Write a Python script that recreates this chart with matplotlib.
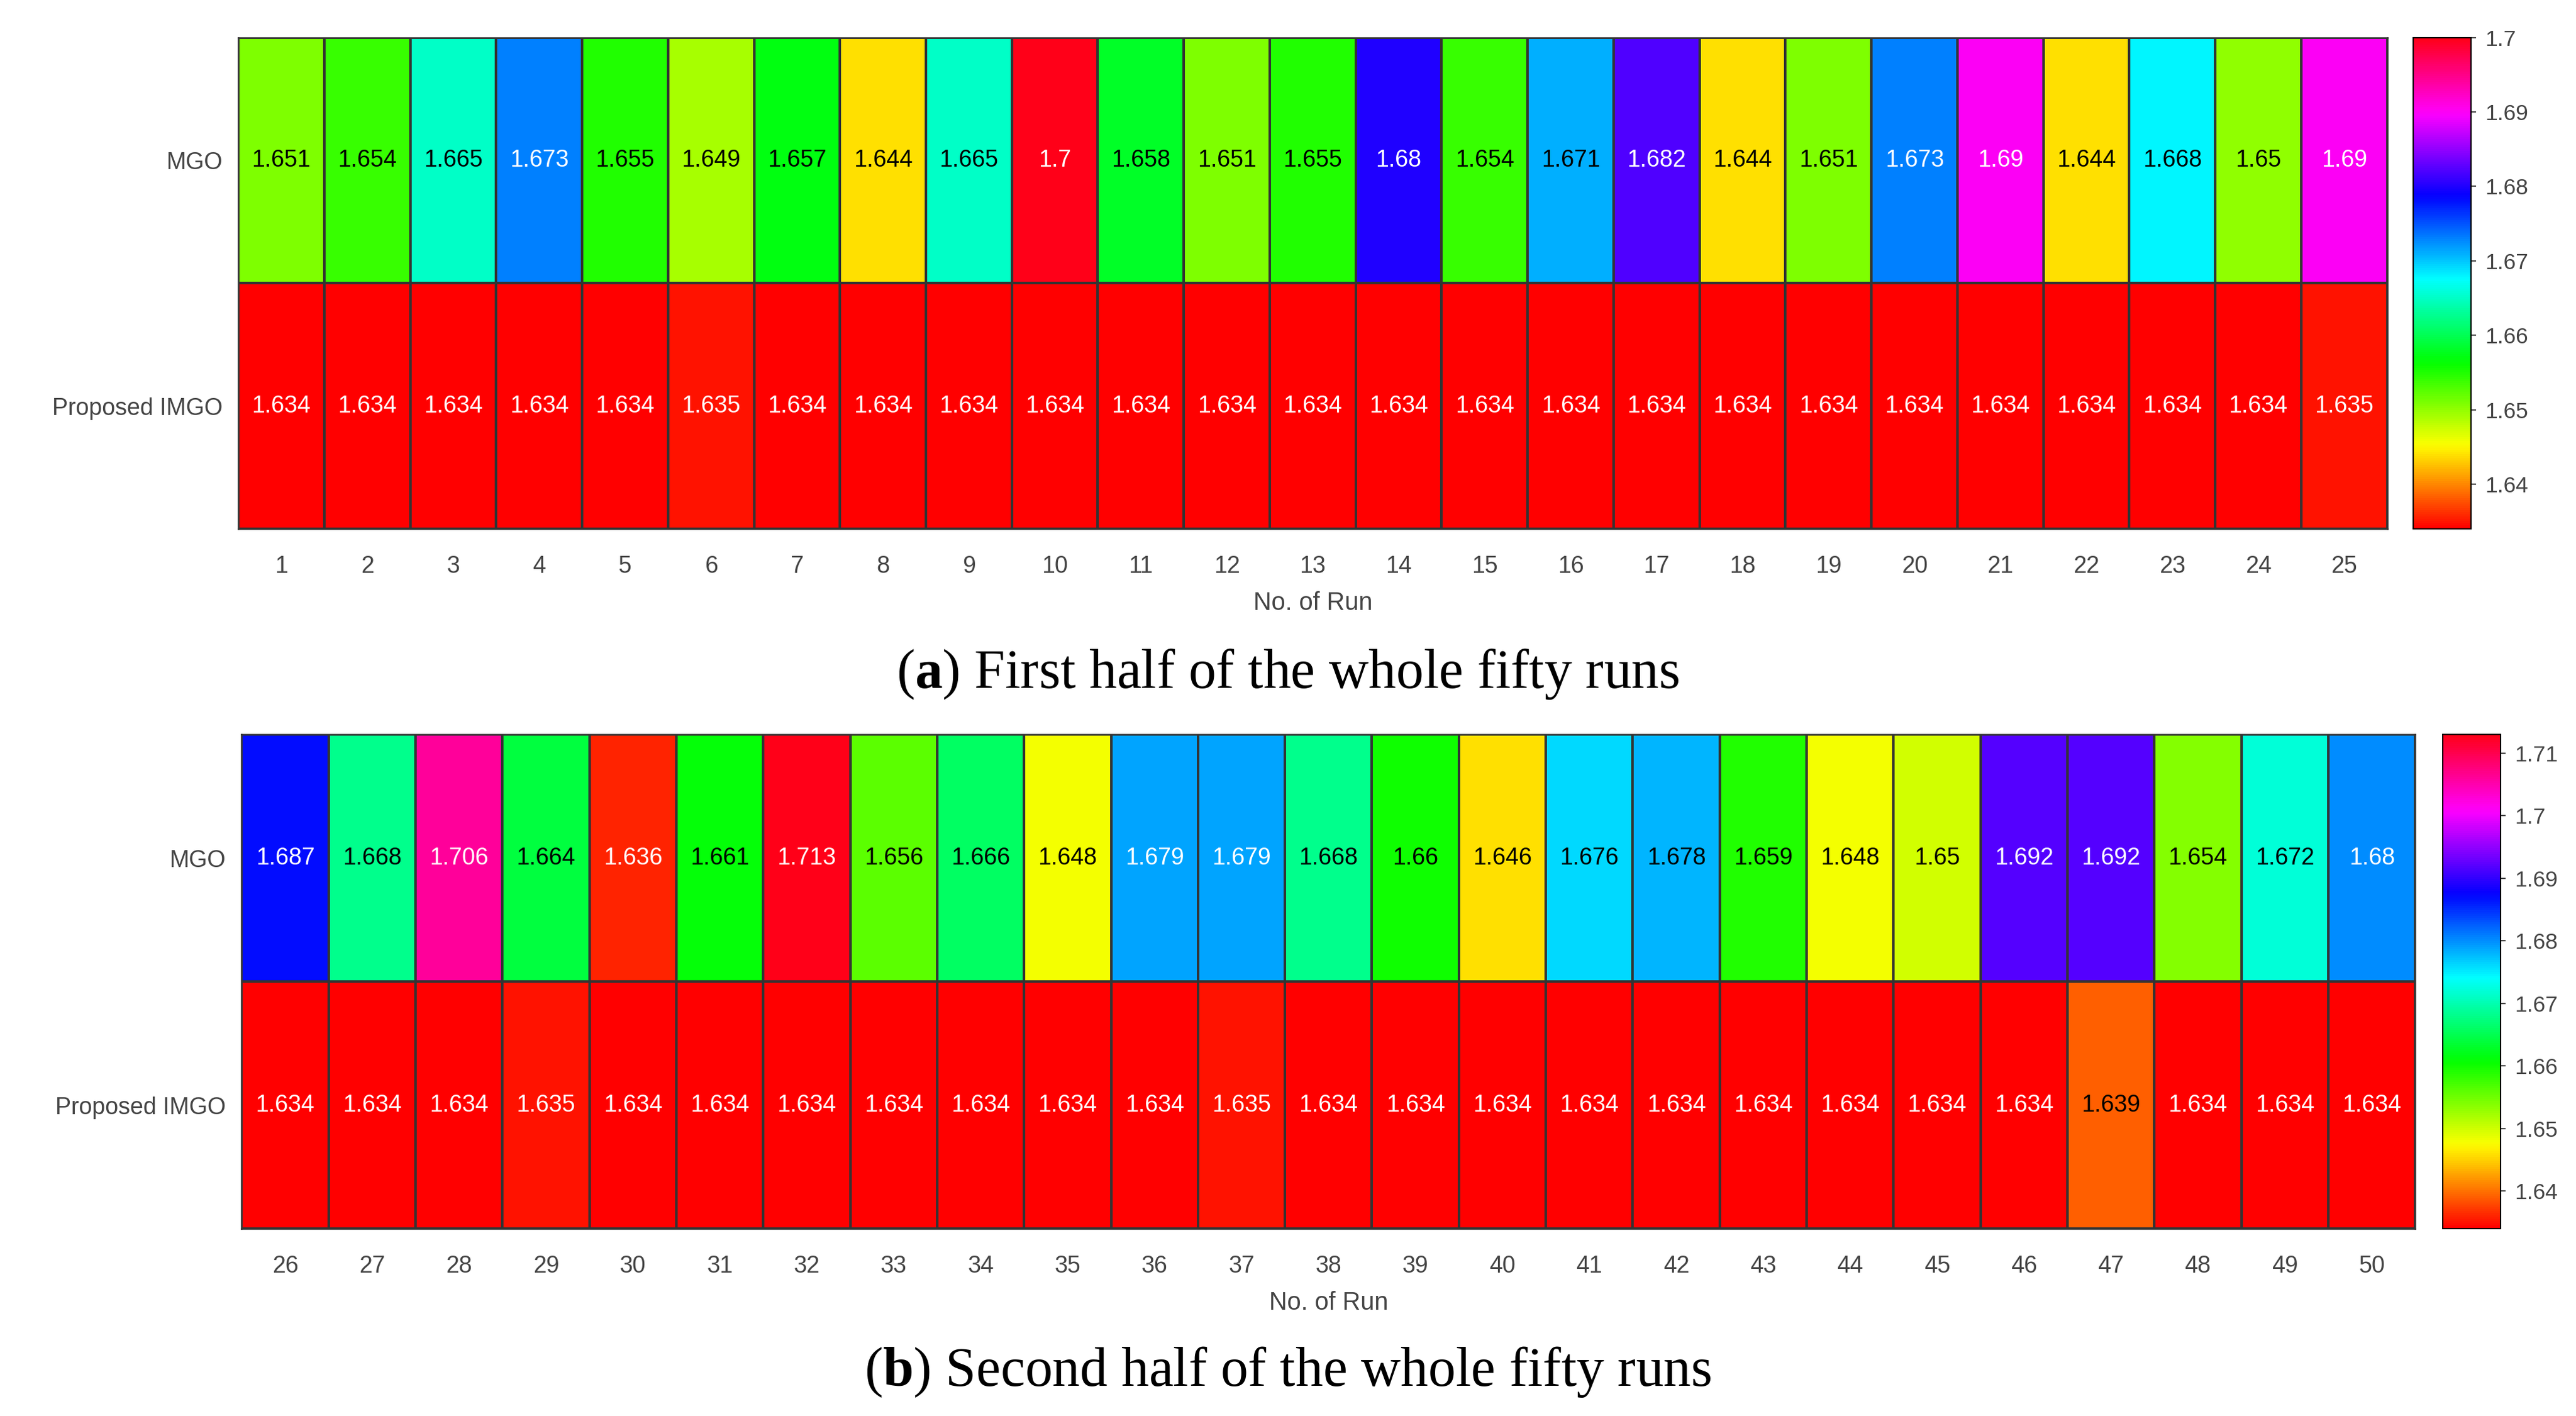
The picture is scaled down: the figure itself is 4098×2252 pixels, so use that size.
import matplotlib
matplotlib.use("Agg")
import matplotlib.pyplot as plt
import numpy as np

plt.rcParams['font.family'] = ['Liberation Sans', 'DejaVu Sans']
plt.rcParams['mathtext.fontset'] = 'custom'
plt.rcParams['mathtext.bf'] = 'Liberation Serif:bold'
plt.rcParams['mathtext.rm'] = 'Liberation Serif'

rows = ["MGO", "Proposed IMGO"]

runs_a = list(range(1, 26))
mgo_a = [1.651, 1.654, 1.665, 1.673, 1.655, 1.649, 1.657, 1.644, 1.665, 1.7,
         1.658, 1.651, 1.655, 1.68, 1.654, 1.671, 1.682, 1.644, 1.651, 1.673,
         1.69, 1.644, 1.668, 1.65, 1.69]
imgo_a = [1.634, 1.634, 1.634, 1.634, 1.634, 1.635, 1.634, 1.634, 1.634, 1.634,
          1.634, 1.634, 1.634, 1.634, 1.634, 1.634, 1.634, 1.634, 1.634, 1.634,
          1.634, 1.634, 1.634, 1.634, 1.635]

runs_b = list(range(26, 51))
mgo_b = [1.687, 1.668, 1.706, 1.664, 1.636, 1.661, 1.713, 1.656, 1.666, 1.648,
         1.679, 1.679, 1.668, 1.66, 1.646, 1.676, 1.678, 1.659, 1.648, 1.65,
         1.692, 1.692, 1.654, 1.672, 1.68]
imgo_b = [1.634, 1.634, 1.634, 1.635, 1.634, 1.634, 1.634, 1.634, 1.634, 1.634,
          1.634, 1.635, 1.634, 1.634, 1.634, 1.634, 1.634, 1.634, 1.634, 1.634,
          1.634, 1.639, 1.634, 1.634, 1.634]

cb_ticks_a = [1.64, 1.65, 1.66, 1.67, 1.68, 1.69, 1.7]
cb_ticks_b = [1.64, 1.65, 1.66, 1.67, 1.68, 1.69, 1.7, 1.71]

cmap = plt.get_cmap('hsv')
fig = plt.figure(figsize=(4098 / 300, 2252 / 300), dpi=300)


def panel(rect, cbrect, runs, mgo, imgo, ticks, caption, cap_y):
    data = np.array([mgo, imgo])
    vmin, vmax = data.min(), data.max()
    ax = fig.add_axes(rect)
    im = ax.pcolormesh(np.arange(len(runs) + 1), np.arange(3), data, cmap=cmap,
                       vmin=vmin, vmax=vmax, edgecolors='#333333', linewidth=0.5)
    ax.set_xlim(0, len(runs))
    ax.set_ylim(2, 0)
    ax.set_xticks(np.arange(len(runs)) + 0.5)
    ax.set_xticklabels([str(r) for r in runs], fontsize=9, color='#444444')
    ax.set_yticks([0.5, 1.5])
    ax.set_yticklabels(rows, fontsize=9, color='#444444')
    ax.tick_params(axis='x', length=0, pad=10)
    ax.tick_params(axis='y', length=0, pad=6)
    for s in ax.spines.values():
        s.set_color('#333333')
        s.set_linewidth(0.6)
    ax.set_xlabel("No. of Run", fontsize=9.5, color='#444444', labelpad=5)
    for i in range(2):
        for j in range(len(runs)):
            v = data[i, j]
            r, g, b, _ = cmap((v - vmin) / (vmax - vmin))
            lum = 0.299 * r + 0.587 * g + 0.114 * b
            ax.text(j + 0.5, i + 0.5, f"{v:g}", ha='center', va='center', fontsize=9,
                    color='black' if lum > 0.5 else 'white')
    cax = fig.add_axes(cbrect)
    cb = fig.colorbar(im, cax=cax, ticks=ticks)
    cb.ax.tick_params(labelsize=8.5, length=2, width=0.5, colors='#444444')
    cb.outline.set_linewidth(0.5)
    cb.set_ticklabels([f"{t:g}" for t in ticks])
    fig.text(0.5, cap_y, caption, ha='center', va='center', fontsize=21,
             family=['Liberation Serif'])


panel([0.0925, 0.6265, 0.8342, 0.347], [0.9369, 0.6265, 0.0223, 0.347],
      runs_a, mgo_a, imgo_a, cb_ticks_a,
      r"($\mathbf{a}$) First half of the whole fifty runs", 0.524)
panel([0.0938, 0.1323, 0.8438, 0.349], [0.9483, 0.1323, 0.0223, 0.349],
      runs_b, mgo_b, imgo_b, cb_ticks_b,
      r"($\mathbf{b}$) Second half of the whole fifty runs", 0.031)

fig.savefig("out.png", dpi=300)
